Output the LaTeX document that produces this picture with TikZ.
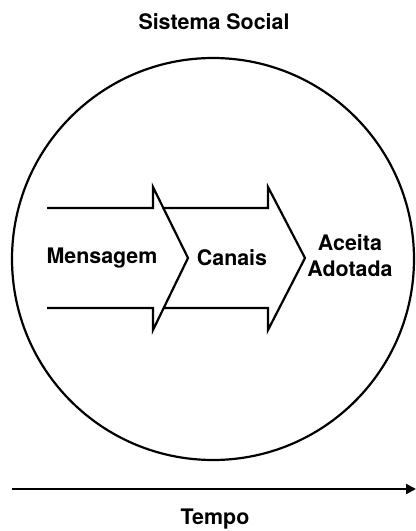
\documentclass[tikz,border=0pt]{standalone}
\usepackage{fontspec}
\setmainfont{TeX Gyre Heros}
\usetikzlibrary{arrows.meta}
\tikzset{
  label text/.style={font=\fontsize{10.7}{13}\selectfont\bfseries, align=center},
  chevron/.style={line width=1.1pt, line join=miter},
}
\begin{document}
\begin{tikzpicture}[x=0.5pt, y=-0.5pt]
    \useasboundingbox (0,0) rectangle (416,531);
    % the social system
    \draw[line width=1.1pt] (213,259) circle [radius=201];
    \node[label text] (sistema) at (214,22) {Sistema Social};

    % message and channel chevrons
    \draw[chevron] (47,208) -- (153,208) -- (153,187) -- (188,258) -- (153,330) -- (153,308) -- (47,308);
    \draw[chevron] (163,208) -- (268,208) -- (268,187) -- (305,258) -- (268,330) -- (268,308) -- (163,308);
    \node[label text] (mensagem) at (102,258) {Mensagem};
    \node[label text] (canais) at (232,258) {Canais};
    \node[label text] (aceita) at (350,256) {Aceita\\Adotada};

    % time axis
    \coordinate (t0) at (12,489);
    \coordinate (t1) at (416,489);
    \draw[line width=1.1pt, -{Triangle[length=5pt, width=5pt]}] (t0) -- (t1);
    \node[label text] (tempo) at (215,519) {Tempo};
\end{tikzpicture}
\end{document}
